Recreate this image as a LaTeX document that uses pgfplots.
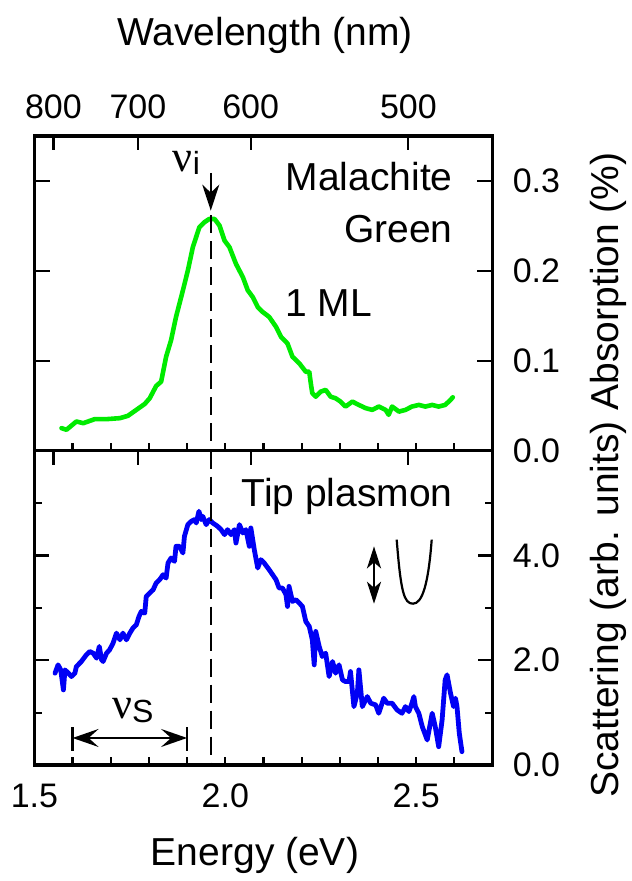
\documentclass[border=0pt]{standalone}
\usepackage{fontspec}
\setmainfont{Liberation Sans}
\newfontfamily\greekfont{Liberation Serif}
\usepackage{pgfplots}
\pgfplotsset{compat=1.18}
\usetikzlibrary{arrows.meta}

\definecolor{mgreen}{RGB}{0,235,0}
\definecolor{pblue}{RGB}{0,0,245}

\newcommand\tickfont{\fontsize{17}{20}\selectfont}
\newcommand\labfont{\fontsize{19.5}{23}\selectfont}
\newcommand\nufreq[1]{{\greekfont\fontsize{22}{24}\selectfont ν}\raisebox{-0.35ex}{\fontsize{16}{18}\selectfont #1}}

\pgfplotsset{
  panel/.style={
    scale only axis, width=229.05pt,
    xmin=1.5, xmax=2.7,
    axis line style={line width=1.6pt},
    tick style={line width=1.1pt, black},
    tick align=inside,
    /pgf/number format/assume math mode=true,
    tick label style={font=\tickfont},
  },
  toppanel/.style={panel, at={(17.2pt,-225.35pt)}, anchor=south west,
    height=157.35pt, ymin=0, ymax=0.35},
  botpanel/.style={panel, at={(17.2pt,-382.5pt)}, anchor=south west,
    height=157.15pt, ymin=0, ymax=6},
  energyticks/.style={
    xtick={1.5,2.0,2.5},
    minor xtick={1.6,1.7,1.8,1.9,2.1,2.2,2.3,2.4,2.6},
    xtick pos=left, ytick=\empty,
    major tick length=4pt, minor tick length=4pt,
  },
  waveticks/.style={
    % 800, 700, 600, 500 nm expressed in eV
    xtick={1.54980,1.77120,2.06640,2.47968},
    xtick pos=right, ytick=\empty,
    major tick length=7pt,
  },
}

\begin{document}
\begin{tikzpicture}
\useasboundingbox (0,0) rectangle (315.5pt,-440.5pt);

% ---------------- upper panel: absorption ----------------
\begin{axis}[toppanel, energyticks, xticklabels={}]
\addplot[mgreen, line width=2.3pt, line join=round, line cap=round] coordinates {
(1.571,0.0251) (1.584,0.0233) (1.610,0.0325) (1.628,0.0306) (1.658,0.0351)
(1.689,0.0351) (1.724,0.0362) (1.745,0.0388) (1.767,0.0454) (1.789,0.0520)
(1.802,0.0583) (1.819,0.0720) (1.832,0.0768) (1.845,0.1045) (1.858,0.1229)
(1.871,0.1488) (1.889,0.1783) (1.902,0.2004) (1.915,0.2263) (1.932,0.2484)
(1.945,0.2540) (1.958,0.2577) (1.972,0.2577) (1.985,0.2503) (1.998,0.2337)
(2.011,0.2263) (2.028,0.2078) (2.046,0.1931) (2.059,0.1783) (2.072,0.1709)
(2.085,0.1598) (2.098,0.1543) (2.115,0.1488) (2.133,0.1377) (2.146,0.1266)
(2.163,0.1192) (2.176,0.1045) (2.194,0.0971) (2.211,0.0878) (2.220,0.0878)
(2.224,0.0750) (2.228,0.0639) (2.237,0.0601) (2.250,0.0657) (2.263,0.0676)
(2.276,0.0601) (2.289,0.0583) (2.302,0.0546) (2.315,0.0491) (2.333,0.0546)
(2.350,0.0509) (2.368,0.0473) (2.385,0.0454) (2.402,0.0491) (2.420,0.0454)
(2.428,0.0399) (2.437,0.0491) (2.455,0.0435) (2.472,0.0454) (2.489,0.0491)
(2.507,0.0509) (2.524,0.0491) (2.542,0.0509) (2.559,0.0491) (2.576,0.0509)
(2.590,0.0565) (2.596,0.0594)
};
\draw[line width=1.2pt, dash pattern=on 9pt off 4pt]
  (axis cs:1.962,0.262) -- (axis cs:1.962,0);
\draw[line width=1.1pt, -{Stealth[length=13pt,width=8.5pt,inset=4pt]}]
  (axis cs:1.962,0.309) -- (axis cs:1.962,0.267);
\node[anchor=base west, inner sep=0pt] at (axis cs:1.862,0.311) {\nufreq{i}};
\node[anchor=base east, inner sep=0pt, font=\labfont] at (axis cs:2.5965,0.2898) {Malachite};
\node[anchor=base east, inner sep=0pt, font=\labfont] at (axis cs:2.5965,0.2318) {Green};
\node[anchor=base west, inner sep=0pt, font=\labfont] at (axis cs:2.1565,0.1495) {1 ML};
\end{axis}

\begin{axis}[toppanel, xtick=\empty,
  ytick={0,0.1,0.2,0.3}, yticklabels={0.0,0.1,0.2,0.3},
  ytick pos=both, yticklabel pos=right,
  major tick length=8pt,
  yticklabel style={xshift=6.6pt}]
\end{axis}

\begin{axis}[toppanel, waveticks, xticklabels={800,700,600,500},
  xticklabel pos=right, xticklabel style={yshift=5pt}]
\end{axis}

% ---------------- lower panel: scattering ----------------
\begin{axis}[botpanel, energyticks, xticklabels={1.5,2.0,2.5},
  xticklabel style={yshift=-6pt}]
\addplot[pblue, line width=2.4pt, line join=round, line cap=round] coordinates {
(1.554,1.753) (1.562,1.912) (1.569,1.816) (1.576,1.434) (1.580,1.816)
(1.589,1.753) (1.597,1.689) (1.606,1.753) (1.610,1.880) (1.623,1.976)
(1.636,2.103) (1.645,2.167) (1.654,2.135) (1.663,2.039) (1.670,2.263)
(1.676,2.008) (1.680,1.976) (1.689,2.135) (1.697,2.199) (1.706,2.326)
(1.715,2.518) (1.724,2.390) (1.732,2.518) (1.741,2.390) (1.750,2.518)
(1.758,2.613) (1.767,2.677) (1.774,2.836) (1.780,2.932) (1.789,2.900)
(1.793,3.219) (1.802,3.282) (1.811,3.346) (1.819,3.474) (1.828,3.537)
(1.837,3.633) (1.845,3.569) (1.850,3.856) (1.858,3.952) (1.867,3.888)
(1.871,4.175) (1.880,4.175) (1.889,4.047) (1.893,4.366) (1.902,4.589)
(1.911,4.652) (1.919,4.685) (1.924,4.621) (1.931,4.844) (1.937,4.685)
(1.941,4.748) (1.950,4.589) (1.958,4.685) (1.967,4.621) (1.980,4.557)
(1.989,4.493) (1.998,4.398) (2.006,4.493) (2.015,4.398) (2.024,4.493)
(2.028,4.238) (2.037,4.589) (2.046,4.430) (2.054,4.493) (2.063,4.175)
(2.067,4.525) (2.076,4.111) (2.085,3.761) (2.093,3.920) (2.102,3.856)
(2.115,3.728) (2.124,3.633) (2.133,3.537) (2.141,3.378) (2.150,3.378)
(2.159,3.250) (2.163,3.027) (2.167,3.410) (2.176,3.123) (2.185,3.155)
(2.194,3.091) (2.202,3.027) (2.211,2.740) (2.220,2.645) (2.228,2.390)
(2.233,1.912) (2.237,2.549) (2.246,2.263) (2.254,2.071) (2.263,2.135)
(2.272,1.689) (2.281,1.976) (2.289,1.753) (2.298,1.912) (2.307,1.625)
(2.315,1.593) (2.324,1.593) (2.328,1.784) (2.337,1.115) (2.346,1.371)
(2.350,1.816) (2.359,1.115) (2.372,1.306) (2.381,1.180) (2.394,1.147)
(2.402,0.988) (2.415,1.275) (2.424,1.180) (2.437,1.180) (2.450,1.052)
(2.463,0.988) (2.472,1.115) (2.481,1.020) (2.489,1.180) (2.494,1.306)
(2.498,1.115) (2.507,0.988) (2.516,0.733) (2.529,0.478) (2.542,0.988)
(2.550,0.733) (2.559,0.350) (2.568,0.860) (2.576,1.625) (2.581,1.721)
(2.590,1.371) (2.598,1.115) (2.603,1.275) (2.607,1.115) (2.613,0.606)
(2.620,0.255)
};
\draw[line width=1.2pt, dash pattern=on 9pt off 4pt]
  (axis cs:1.962,6) -- (axis cs:1.962,0);
\node[anchor=base east, inner sep=0pt, font=\labfont] at (axis cs:2.5965,4.931) {Tip plasmon};
% polarisation arrow and tip sketch
\draw[line width=1.2pt, {Stealth[length=11pt,width=7pt,inset=3pt]}-{Stealth[length=11pt,width=7pt,inset=3pt]}]
  (axis cs:2.3896,4.174) -- (axis cs:2.3896,3.078);
\draw[line width=1.1pt]
  (axis cs:2.449,4.302) .. controls (axis cs:2.460,3.30) and (axis cs:2.468,3.08)
  .. (axis cs:2.4918,3.08) .. controls (axis cs:2.516,3.08) and (axis cs:2.532,3.45)
  .. (axis cs:2.5407,4.302);
% Stokes shift marker
\draw[line width=1.1pt] (axis cs:1.6,0.268) -- (axis cs:1.6,0.727);
\draw[line width=1.1pt] (axis cs:1.9,0.268) -- (axis cs:1.9,0.727);
\draw[line width=1.1pt, {Stealth[length=13pt,width=9pt,inset=5pt]}-{Stealth[length=13pt,width=9pt,inset=5pt]}]
  (axis cs:1.6,0.516) -- (axis cs:1.9,0.516);
\node[anchor=base west, inner sep=0pt] at (axis cs:1.703,0.891) {\nufreq{S}};
\end{axis}

\begin{axis}[botpanel, xtick=\empty,
  ytick={0,2,4}, yticklabels={0.0,2.0,4.0},
  minor ytick={1,3,5},
  ytick pos=both, yticklabel pos=right,
  major tick length=7.5pt, minor tick length=4pt,
  yticklabel style={xshift=6.6pt}]
\end{axis}

\begin{axis}[botpanel, waveticks, xticklabels={}]
\end{axis}

% axis titles
\node[font=\labfont] at (132.5pt,-17.5pt) {Wavelength (nm)};
\node[font=\labfont] at (127.5pt,-427.5pt) {Energy (eV)};
\node[font=\labfont, rotate=90] at (304pt,-237.5pt) {Scattering (arb. units) Absorption (\%)};
\end{tikzpicture}
\end{document}
